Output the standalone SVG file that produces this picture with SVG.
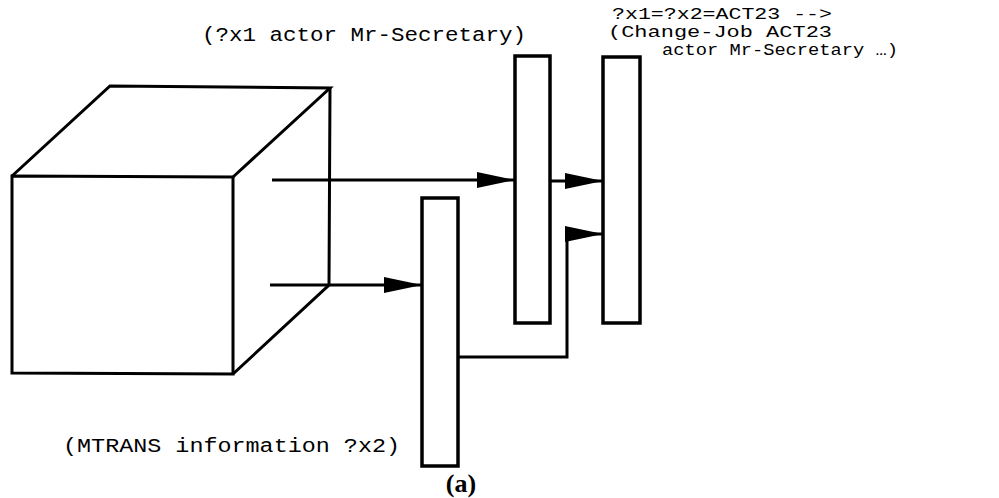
<svg xmlns="http://www.w3.org/2000/svg" width="999" height="498" viewBox="0 0 999 498">
  <style>
    .ln { fill: none; stroke: #000; stroke-width: 3; stroke-linejoin: miter; }
    .box { fill: #fff; stroke: #000; stroke-width: 3.5; }
    .lbl { font-family: "Liberation Mono", "Courier New", monospace; font-size: 20px; fill: #000; }
    .note { font-family: "Liberation Mono", "Courier New", monospace; font-size: 16px; fill: #000; }
    .cap { font-family: "Liberation Serif", "Times New Roman", serif; font-size: 26px; font-weight: bold; fill: #000; }
  </style>
  <defs>
    <marker id="arr" viewBox="0 0 38 16" refX="38" refY="8" markerWidth="38" markerHeight="16" markerUnits="userSpaceOnUse" orient="auto">
      <path d="M0,0 L38,8 L0,16 Z" fill="#000"/>
    </marker>
  </defs>

  <!-- cube -->
  <g id="cube">
    <path class="ln" d="M12,176 L233,177 L233,374 L12,373 Z"/>
    <path class="ln" d="M12,176 L110,86 L330,88 L233,177"/>
    <path class="ln" d="M330,88 L329,285 L233,374"/>
  </g>

  <!-- processing units -->
  <g id="unit-mtrans">
    <rect class="box" x="422" y="198" width="36" height="268"/>
  </g>
  <g id="unit-actor">
    <rect class="box" x="515" y="56" width="35" height="267"/>
  </g>
  <g id="unit-changejob">
    <rect class="box" x="603" y="57" width="37" height="266"/>
  </g>

  <!-- connectors -->
  <g id="connectors">
    <path class="ln" d="M272,180 L515,180" marker-end="url(#arr)"/>
    <path class="ln" d="M270,285 L422,285" marker-end="url(#arr)"/>
    <path class="ln" d="M550,181 L603,181" marker-end="url(#arr)"/>
    <path class="ln" d="M458,357 L567,357 L567,234 L603,234" marker-end="url(#arr)"/>
  </g>

  <!-- labels -->
  <g id="labels">
    <text class="lbl" x="202" y="41" textLength="324" lengthAdjust="spacingAndGlyphs">(?x1 actor Mr-Secretary)</text>
    <text class="note" x="612" y="19" textLength="220" lengthAdjust="spacingAndGlyphs">?x1=?x2=ACT23 --&gt;</text>
    <text class="note" x="608" y="37" textLength="224" lengthAdjust="spacingAndGlyphs">(Change-Job ACT23</text>
    <text class="note" x="662" y="55" textLength="236" lengthAdjust="spacingAndGlyphs">actor Mr-Secretary …)</text>
    <text class="lbl" x="63" y="452" textLength="337" lengthAdjust="spacingAndGlyphs">(MTRANS information ?x2)</text>
    <text class="cap" x="461" y="492" text-anchor="middle">(a)</text>
  </g>
</svg>
